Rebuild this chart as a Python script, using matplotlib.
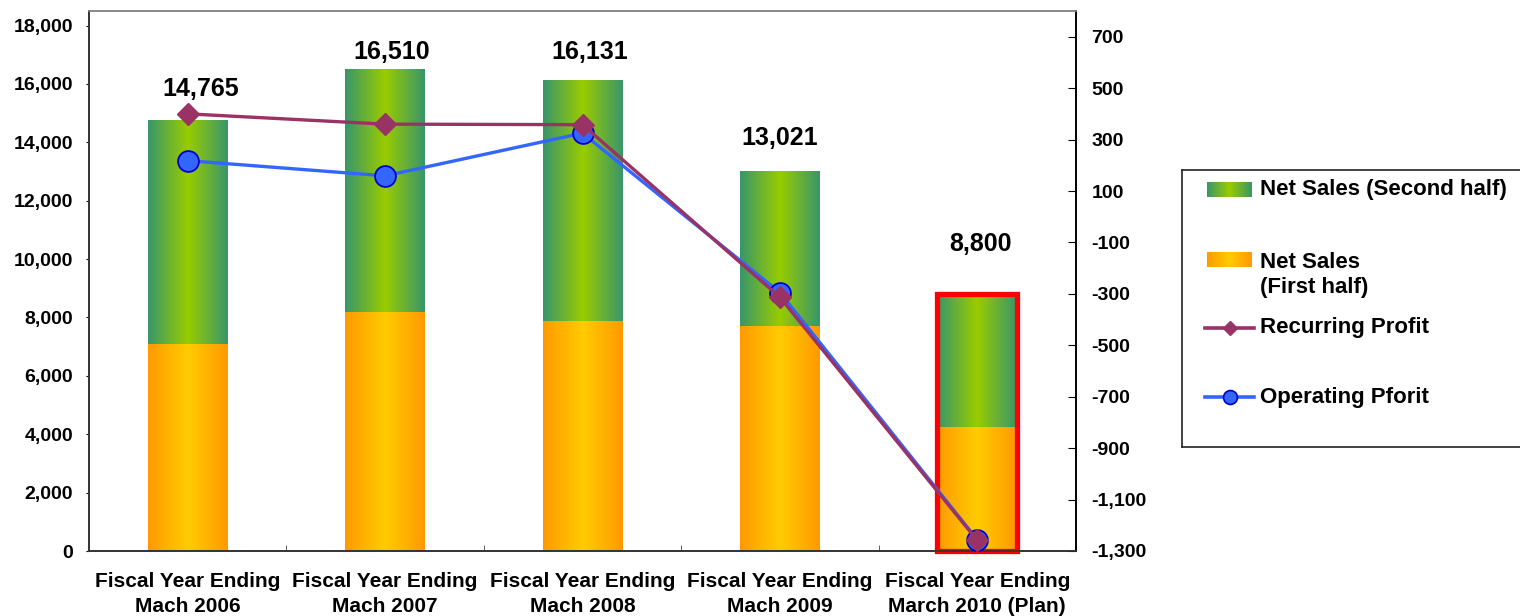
import numpy as np
import matplotlib
matplotlib.use("Agg")
import matplotlib.pyplot as plt
from matplotlib.patches import Rectangle
from matplotlib.colors import LinearSegmentedColormap
from matplotlib.ticker import FuncFormatter, FixedLocator

plt.rcParams['font.family'] = ['Liberation Sans', 'DejaVu Sans']
plt.rcParams['font.weight'] = 'bold'

# data
categories = ['Fiscal Year Ending\nMach 2006', 'Fiscal Year Ending\nMach 2007',
              'Fiscal Year Ending\nMach 2008', 'Fiscal Year Ending\nMach 2009',
              'Fiscal Year Ending\nMarch 2010 (Plan)']
net_sales_total = [14765, 16510, 16131, 13021, 8800]
net_sales_first = [7080, 8190, 7870, 7710, 4240]
net_sales_second = [t - f for t, f in zip(net_sales_total, net_sales_first)]
recurring_profit = [400, 360, 358, -313, -1259]
operating_profit = [218, 159, 325, -295, -1256]

# where the total labels sit relative to the bar top (points)
label_dx = [9, 5, 5, 0, 2]
label_dy = [22, 12, 20, 24, 36]

green_cmap = LinearSegmentedColormap.from_list('gr', ['#38966a', '#99cc00', '#38966a'])
orange_cmap = LinearSegmentedColormap.from_list('or', ['#ff9900', '#ffcc00', '#ff9900'])
grad = np.linspace(0, 1, 256).reshape(1, -1)
purple = '#993366'
blue = '#3366ff'

fig = plt.figure(figsize=(15.2, 6.16), dpi=100)
ax = fig.add_axes([89/1520, 65/616, (1076-89)/1520, (551-11)/616])
ax2 = ax.twinx()

x = np.arange(len(categories))
width = 0.405

b1 = ax.bar(x, net_sales_first, width, color='none', zorder=1)
b2 = ax.bar(x, net_sales_second, width, bottom=net_sales_first, color='none', zorder=1)

def fill_gradient(a, bars, cmap):
    for p in bars:
        x0, y0 = p.get_x(), p.get_y()
        im = a.imshow(grad, cmap=cmap, aspect='auto', zorder=1,
                      extent=[x0, x0 + p.get_width(), y0, y0 + p.get_height()])
        im.set_clip_path(p)

fill_gradient(ax, b1, orange_cmap)
fill_gradient(ax, b2, green_cmap)

# red box round the plan year
last = b1[-1]
ax.add_patch(Rectangle((last.get_x(), 0), last.get_width(), net_sales_total[-1],
                       fill=False, ec='#ff0000', lw=3.8, zorder=3, clip_on=False))

for i, t in enumerate(net_sales_total):
    ax.annotate(f'{t:,}', (x[i], t), xytext=(label_dx[i], label_dy[i]), textcoords='offset points',
                ha='center', va='center', fontsize=18, fontweight='bold')

ax.set_xlim(-0.5, len(categories) - 0.5)
ax.set_ylim(0, 18500)
ax.set_yticks(np.arange(0, 18001, 2000))
ax.yaxis.set_major_formatter(FuncFormatter(lambda v, p: f'{int(v):,}'))
ax.set_xticks(x)
ax.set_xticklabels(categories, fontsize=15, linespacing=1.4)
ax.xaxis.set_minor_locator(FixedLocator(np.arange(-0.5, len(categories), 1)))
ax.tick_params(axis='x', which='major', length=0, pad=15)
ax.tick_params(axis='x', which='minor', direction='in', length=4.5, color='#444444')
ax.tick_params(axis='y', direction='out', length=2.5, labelsize=14, pad=9)

ax2.plot(x, operating_profit, color=blue, lw=2.4, marker='o', markersize=15,
         markerfacecolor=blue, markeredgecolor='#0000cc', markeredgewidth=1.3, zorder=4)
ax2.plot(x, recurring_profit, color=purple, lw=2.4, marker='D', markersize=11,
         markerfacecolor=purple, markeredgecolor=purple, zorder=5)
ax2.set_ylim(-1300, 800)
ax2.set_yticks(np.arange(-1300, 701, 200))
ax2.yaxis.set_major_formatter(FuncFormatter(lambda v, p: f'{int(v):,}'))
ax2.tick_params(axis='y', direction='in', length=6, labelsize=14, pad=11)

for a in (ax, ax2):
    a.spines['top'].set_color('#888888')
    a.spines['left'].set_color('#333333')
    a.spines['bottom'].set_color('#333333')
    a.spines['right'].set_color('#000000')
    for s in a.spines.values():
        s.set_linewidth(1.2)
ax.set_zorder(ax2.get_zorder() - 1)
ax2.patch.set_visible(False)

# legend box, laid out in pixel units (y downwards from box top)
lg = fig.add_axes([1182/1520, 1 - 447/616, 360/1520, 277/616])
lg.set_xlim(0, 360)
lg.set_ylim(277, 0)
lg.set_xticks([])
lg.set_yticks([])
for s in lg.spines.values():
    s.set_color('#222222')
    s.set_linewidth(1.2)

fs_leg = 16
lg.imshow(grad, cmap=green_cmap, aspect='auto', extent=[25, 70, 27.5, 12.5])
lg.text(78, 20, 'Net Sales (Second half)', fontsize=fs_leg, fontweight='bold', va='center')
lg.imshow(grad, cmap=orange_cmap, aspect='auto', extent=[25, 70, 97.5, 82.5])
lg.text(78, 104.5, 'Net Sales\n(First half)', fontsize=fs_leg, fontweight='bold', va='center',
        linespacing=1.25)
lg.plot([23, 72], [158, 158], color=purple, lw=2.6)
lg.plot([47.5], [158], marker='D', markersize=7.5, color=purple)
lg.text(78, 158, 'Recurring Profit', fontsize=fs_leg, fontweight='bold', va='center')
lg.plot([23, 72], [227, 227], color=blue, lw=2.6)
lg.plot([47.5], [227], marker='o', markersize=10, markerfacecolor=blue,
        markeredgecolor='#0000cc', markeredgewidth=1.2)
lg.text(78, 227, 'Operating Pforit', fontsize=fs_leg, fontweight='bold', va='center')

fig.savefig('out.png', dpi=100)
